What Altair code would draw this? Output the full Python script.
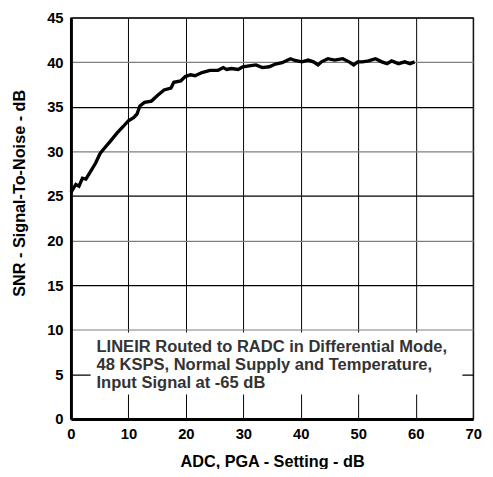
import altair as alt
import pandas as pd

pga_setting = [0, 0.85, 1.4, 2.0, 2.6, 3.4, 4.3, 5.1, 6.0, 6.8, 8.0, 9.1, 10.0, 10.9, 11.5, 12.0,
               12.8, 14.0, 15.1, 16.2, 17.4, 17.9, 19.1, 19.9, 20.8, 21.6, 22.8, 24.2, 25.6, 26.5,
               27.1, 27.9, 29.1, 29.9, 31.0, 32.2, 33.3, 34.5, 35.6, 36.75, 38.2, 39.0, 40.2, 41.3,
               42.2, 43.0, 43.6, 44.7, 45.9, 47.3, 48.4, 49.2, 49.9, 50.7, 51.8, 53.0, 54.1, 55.0,
               55.8, 57.0, 58.1, 59.0, 59.8]
snr_db = [25.4, 26.3, 26.1, 27.0, 26.9, 27.75, 28.7, 29.8, 30.5, 31.1, 32.05, 32.8, 33.45, 33.8,
          34.2, 35.1, 35.5, 35.65, 36.3, 36.9, 37.1, 37.75, 37.9, 38.4, 38.6, 38.5, 38.85, 39.1,
          39.1, 39.4, 39.2, 39.3, 39.2, 39.5, 39.6, 39.7, 39.4, 39.5, 39.8, 39.95, 40.4, 40.2,
          40.05, 40.25, 40.05, 39.7, 40.05, 40.4, 40.25, 40.4, 40.05, 39.7, 40.05, 40.05, 40.15,
          40.4, 40.05, 39.85, 40.15, 39.85, 40.05, 39.85, 40.05]

note_lines = ["LINEIR Routed to RADC in Differential Mode,",
              "48 KSPS, Normal Supply and Temperature,",
              "Input Signal at -65 dB"]

df = pd.DataFrame({"x": pga_setting, "y": snr_db})
notes = pd.DataFrame({"line": note_lines, "i": list(range(len(note_lines)))})

FONT = "Liberation Sans"
LFS = 15     # tick labels
TFS = 16.5   # axis titles
NFS = 16.8   # note

xscale = alt.Scale(domain=[0, 70], nice=False)
yscale = alt.Scale(domain=[0, 45], nice=False)

xaxis = alt.Axis(title="ADC, PGA - Setting - dB", values=list(range(0, 71, 10)), ticks=False,
                 labelPadding=8, titlePadding=12, grid=True, gridColor="black", gridWidth=1,
                 domainColor="black", domainWidth=3, labelFont=FONT, labelFontSize=LFS,
                 labelFontWeight="bold", titleFont=FONT, titleFontSize=TFS, titleFontWeight="bold",
                 labelColor="black", titleColor="black", labelFlush=False)
yaxis = alt.Axis(title="SNR - Signal-To-Noise - dB", values=list(range(0, 46, 5)), ticks=False,
                 labelPadding=8, titlePadding=20, titleY=178, grid=True,
                 gridColor={"condition": {"test": "datum.value % 10 === 0", "value": "#7f7f7f"},
                            "value": "black"},
                 gridWidth=1.2,
                 domainColor="black", domainWidth=3, labelFont=FONT, labelFontSize=LFS,
                 labelFontWeight="bold", titleFont=FONT, titleFontSize=TFS, titleFontWeight="bold",
                 labelColor="black", titleColor="black", labelFlush=False)

line = alt.Chart(df).mark_line(color="black", strokeWidth=3.4).encode(
    x=alt.X("x:Q", scale=xscale, axis=xaxis),
    y=alt.Y("y:Q", scale=yscale, axis=yaxis),
)

box = alt.Chart(pd.DataFrame({"a": [0]})).mark_rect(color="white").encode(
    x=alt.value(20), x2=alt.value(398), y=alt.value(320), y2=alt.value(383)
)

text = alt.Chart(notes).mark_text(align="left", baseline="middle", font=FONT, fontSize=NFS,
                                  fontWeight="bold", color="#333333", dx=26).encode(
    x=alt.value(0),
    y=alt.Y("i:O", axis=None, scale=alt.Scale(range=[335, 372], paddingOuter=0, paddingInner=0, padding=0)),
    text="line:N",
)

chart = alt.layer(line, box, text).resolve_scale(y="independent").properties(
    width=409, height=408,
    autosize=alt.AutoSizeParams(type="none"),
    padding={"left": 64, "top": 6, "right": 12, "bottom": 47},
).configure_view(stroke="#666666", strokeWidth=1.5)

chart.save("out.html", embed_options={"renderer": "svg", "actions": False})
